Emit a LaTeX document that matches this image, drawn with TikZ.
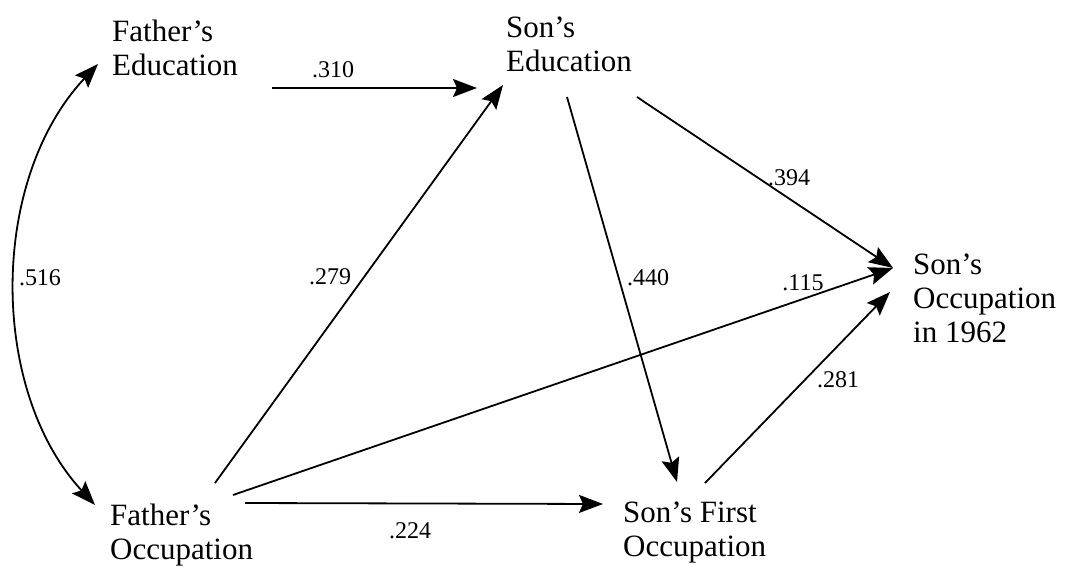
\documentclass[tikz,border=0pt]{standalone}
\usepackage{fontspec}
\setmainfont{Liberation Serif}
\usetikzlibrary{arrows.meta,calc}
\begin{document}
\begin{tikzpicture}[x=1pt,y=-1pt,
  var/.style={anchor=north west,inner sep=0pt,align=left,font=\fontsize{31}{34}\selectfont},
  coef/.style={inner sep=0pt,font=\fontsize{24}{26}\selectfont},
  link/.style={line width=1.8pt,-{Stealth[length=24pt,width=18pt,inset=4pt]}},
  corr/.style={line width=1.8pt,{Stealth[length=24pt,width=18pt,inset=4pt]}-{Stealth[length=24pt,width=18pt,inset=4pt]}},
]
\useasboundingbox (0,0) rectangle (1065,567);
\fill[white] (0,0) rectangle (1065,567);
\node[var] (fe) at (112,20) {Father’s\\Education};
\node[var] (se) at (506,17) {Son’s\\Education};
\node[var] (so) at (913,254) {Son’s\\Occupation\\in 1962};
\node[var] (fo) at (110,504) {Father’s\\Occupation};
\node[var] (sf) at (623,502) {Son’s First\\Occupation};

\draw[link] ($(fe.north west)+(160,68)$) -- ($(se.north west)+(-29,71)$);
\draw[link] ($(fo.north west)+(105,-21)$) -- ($(se.north west)+(-3,68)$);
\draw[link] ($(fo.north west)+(123,-9)$) -- ($(so.north west)+(-20,14)$);
\draw[link] ($(fo.north west)+(135,-1)$) -- ($(sf.north west)+(-20,2)$);
\draw[link] ($(se.north west)+(61,80)$) -- ($(sf.north west)+(54,-20)$);
\draw[link] ($(se.north west)+(131,80)$) -- ($(so.north west)+(-20,14)$);
\draw[link] ($(sf.north west)+(82,-19)$) -- ($(so.north west)+(-23,38)$);
\draw[corr] ($(fe.north west)+(-14,44)$) .. controls (-11,180) and (-11,390) .. ($(fo.north west)+(-15,1)$);

\node[coef] (c1) at (333,70) {.310};
\node[coef] (c2) at (789,178) {.394};
\node[coef] (c3) at (330,277) {.279};
\node[coef] (c4) at (648,278) {.440};
\node[coef] (c5) at (803,283) {.115};
\node[coef] (c6) at (838,380) {.281};
\node[coef] (c7) at (410,531) {.224};
\node[coef] (c8) at (40,278) {.516};
\end{tikzpicture}
\end{document}
